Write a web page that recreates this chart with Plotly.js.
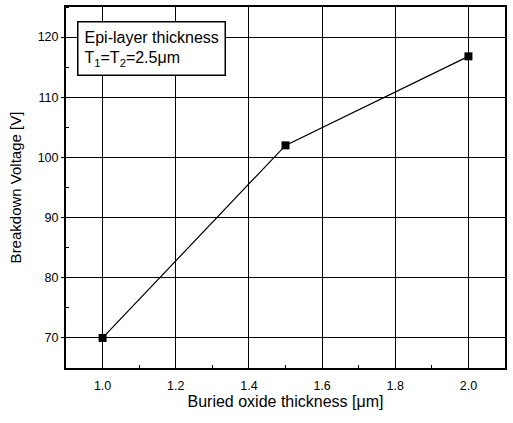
<!DOCTYPE html>
<html><head><meta charset="utf-8">
<script src="https://cdn.plot.ly/plotly-3.0.1.min.js"></script>
<style>html,body{margin:0;padding:0;background:#fff;}#chart{width:513px;height:423px;}</style>
</head><body><div id="chart"></div>
<script>
const oxideThickness = [1.0, 1.5, 2.0];
const breakdownVoltage = [70, 102, 116.8];
const xTickVals = [1.0, 1.2, 1.4, 1.6, 1.8, 2.0];
const xTickText = ["1.0", "1.2", "1.4", "1.6", "1.8", "2.0"];
const yTickVals = [70, 80, 90, 100, 110, 120];
const legendLines = ["Epi-layer thickness", "T<sub>1</sub>=T<sub>2</sub>=2.5μm"];

const font = "Liberation Sans, Arial, sans-serif";
const trace = {
  x: oxideThickness, y: breakdownVoltage, type: 'scatter', mode: 'lines+markers',
  line: {color: '#000', width: 1.2},
  marker: {symbol: 'square', size: 8, color: '#000'},
  showlegend: false
};
const layout = {
  width: 513, height: 423,
  margin: {l: 66, r: 8, t: 7, b: 55},
  paper_bgcolor: '#fff', plot_bgcolor: '#fff',
  font: {family: font, color: '#000', size: 12},
  xaxis: {
    range: [0.9, 2.1], tickvals: xTickVals, ticktext: xTickText,
    showline: true, linecolor: '#000', linewidth: 2, mirror: true,
    showgrid: true, gridcolor: '#000', gridwidth: 1,
    ticks: 'inside', ticklen: 5, tickcolor: '#000', ticklabelstandoff: 5,
    minor: {dtick: 0.1, tick0: 0.9, ticks: 'inside', ticklen: 3, tickcolor: '#000', showgrid: false},
    zeroline: false,
    tickfont: {size: 12.5, family: font},
    title: {text: 'Buried oxide thickness [μm]', font: {size: 16, family: font}, standoff: 4}
  },
  yaxis: {
    range: [65, 125], tickvals: yTickVals,
    showline: true, linecolor: '#000', linewidth: 2, mirror: true,
    showgrid: true, gridcolor: '#000', gridwidth: 1,
    ticks: 'outside', ticklen: 3, tickcolor: '#000',
    minor: {dtick: 5, tick0: 65, ticks: 'inside', ticklen: 3, tickcolor: '#000', showgrid: false},
    zeroline: false,
    tickfont: {size: 12.5, family: font},
    title: {text: 'Breakdown Voltage [V]', font: {size: 15, family: font}, standoff: 12}
  },
  annotations: [{
    xref: 'paper', yref: 'paper', x: 0.025, y: 0.962, xanchor: 'left', yanchor: 'top',
    text: legendLines.join('<br>'), align: 'left', showarrow: false,
    font: {size: 16, family: font, color: '#000'},
    bordercolor: '#000', borderwidth: 1.5, borderpad: 6, bgcolor: '#fff'
  }]
};
Plotly.newPlot('chart', [trace], layout, {displayModeBar: false, staticPlot: true});
</script></body></html>
